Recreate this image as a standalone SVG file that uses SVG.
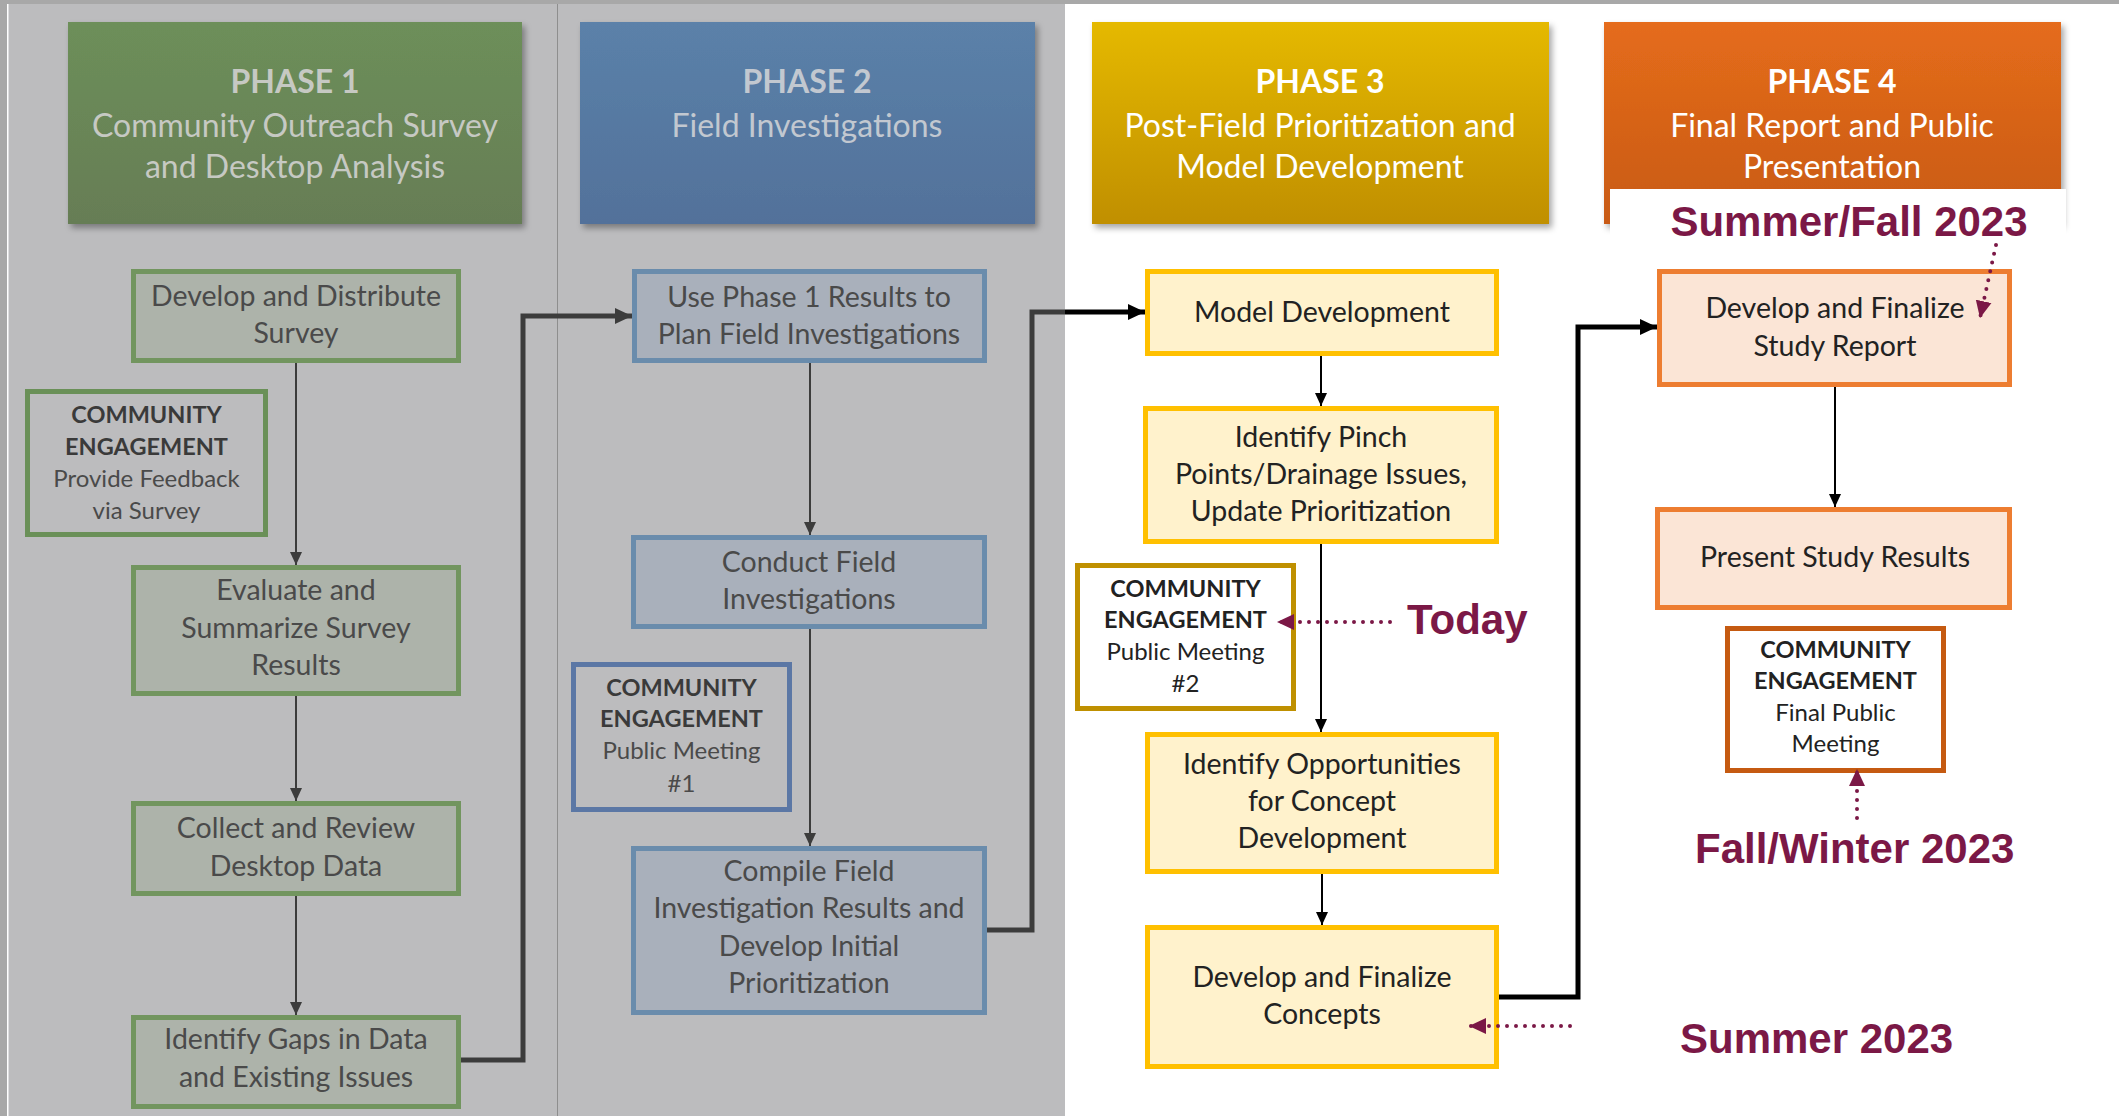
<svg xmlns="http://www.w3.org/2000/svg" width="2119" height="1116" viewBox="0 0 2119 1116">
<defs>
<style>
.t{font-family:Lato,"Liberation Sans",sans-serif;text-anchor:middle}
.n{font-size:28.5px}
.ce{font-size:24px}
.b{font-weight:bold;font-size:23.5px}
.hb{font-weight:bold}
.hd{font-size:32px}
.gt{fill:#4a4a4a}
.gtb{fill:#3a3a3a}
.wt{fill:#222}
.g1n{fill:#adb3aa;stroke:#72955f;stroke-width:5}
.g1c{fill:#bcbcbe;stroke:#6a9058;stroke-width:5}
.g2n{fill:#a9b0bb;stroke:#6a8cac;stroke-width:5}
.g2c{fill:#bcbcbe;stroke:#5b77a5;stroke-width:5}
.y3n{fill:#fff2cc;stroke:#ffc000;stroke-width:5}
.y3c{fill:#fff;stroke:#bf9000;stroke-width:5}
.o4n{fill:#fbe5d6;stroke:#ed7d31;stroke-width:5}
.o4c{fill:#fff;stroke:#c55a11;stroke-width:5}
.thin{fill:none;stroke-width:2}
.thick{fill:none;stroke-width:5}
.dot{fill:none;stroke:#7b1846;stroke-width:4;stroke-linecap:round;stroke-dasharray:0 9}
.date{font-family:"Liberation Sans",Arial,sans-serif;font-weight:bold;font-size:42px;fill:#7b1846}
</style>
<linearGradient id="gr1" x1="0" y1="0" x2="0" y2="1"><stop offset="0" stop-color="#6d8f5a"/><stop offset="1" stop-color="#667d55"/></linearGradient>
<linearGradient id="gr2" x1="0" y1="0" x2="0" y2="1"><stop offset="0" stop-color="#5b81a9"/><stop offset="1" stop-color="#52719a"/></linearGradient>
<linearGradient id="gr3" x1="0" y1="0" x2="0" y2="1"><stop offset="0" stop-color="#e5b900"/><stop offset="1" stop-color="#c08f00"/></linearGradient>
<linearGradient id="gr4" x1="0" y1="0" x2="0" y2="1"><stop offset="0" stop-color="#e56c1b"/><stop offset="1" stop-color="#c85a14"/></linearGradient>
<filter id="sh" x="-5%" y="-5%" width="115%" height="120%"><feDropShadow dx="3" dy="4" stdDeviation="3" flood-color="#000" flood-opacity="0.35"/></filter>
<marker id="ag" markerUnits="userSpaceOnUse" markerWidth="14" markerHeight="14" refX="13" refY="7" orient="auto"><path d="M0,1 L13,7 L0,13 z" fill="#3c3c3c"/></marker>
<marker id="ak" markerUnits="userSpaceOnUse" markerWidth="14" markerHeight="14" refX="13" refY="7" orient="auto"><path d="M0,1 L13,7 L0,13 z" fill="#000"/></marker>
<marker id="agT" markerUnits="userSpaceOnUse" markerWidth="18" markerHeight="18" refX="17" refY="9" orient="auto"><path d="M0,1 L17,9 L0,17 z" fill="#3c3c3c"/></marker>
<marker id="akT" markerUnits="userSpaceOnUse" markerWidth="18" markerHeight="18" refX="17" refY="9" orient="auto"><path d="M0,1 L17,9 L0,17 z" fill="#000"/></marker>
<marker id="am" markerUnits="userSpaceOnUse" markerWidth="18" markerHeight="18" refX="17" refY="9" orient="auto"><path d="M0,1 L17,9 L0,17 z" fill="#7b1846"/></marker>
</defs>

<!-- background -->
<rect x="0" y="0" width="2119" height="1116" fill="#fff"/>
<rect x="0" y="0" width="1065" height="1116" fill="#bcbcbe"/>
<rect x="0" y="0" width="2119" height="4" fill="#a8a8a8"/>
<rect x="0" y="0" width="7" height="1116" fill="#a8a8a8"/>
<rect x="7" y="4" width="1.5" height="1112" fill="#fff"/>
<line x1="557.5" y1="4" x2="557.5" y2="1116" stroke="#8e8e8e" stroke-width="1"/>

<!-- phase headers -->
<g id="phase1">
<rect x="68" y="22" width="454" height="202" fill="url(#gr1)" filter="url(#sh)"/>
<text class="t hd" fill="#c6c9c3"><tspan x="295" y="93" class="hb">PHASE 1</tspan><tspan x="295" y="137">Community Outreach Survey</tspan><tspan x="295" y="178">and Desktop Analysis</tspan></text>
</g>
<g id="phase2">
<rect x="580" y="22" width="455" height="202" fill="url(#gr2)" filter="url(#sh)"/>
<text class="t hd" fill="#c2c8d0"><tspan x="807" y="93" class="hb">PHASE 2</tspan><tspan x="807" y="137">Field Investigations</tspan></text>
</g>
<g id="phase3">
<rect x="1092" y="22" width="457" height="202" fill="url(#gr3)" filter="url(#sh)"/>
<text class="t hd" fill="#fff"><tspan x="1320" y="93" class="hb">PHASE 3</tspan><tspan x="1320" y="137">Post-Field Prioritization and</tspan><tspan x="1320" y="178">Model Development</tspan></text>
</g>
<g id="phase4">
<rect x="1604" y="22" width="457" height="202" fill="url(#gr4)" filter="url(#sh)"/>
<text class="t hd" fill="#fff"><tspan x="1832" y="93" class="hb">PHASE 4</tspan><tspan x="1832" y="137">Final Report and Public</tspan><tspan x="1832" y="178">Presentation</tspan></text>
</g>

<!-- phase 1 nodes -->
<g id="n1a"><rect class="g1n" x="133.5" y="271.5" width="325" height="89"/>
<text class="t n gt"><tspan x="296" y="306">Develop and Distribute</tspan><tspan x="296" y="343">Survey</tspan></text></g>
<g id="ce1"><rect class="g1c" x="27.5" y="391.5" width="238" height="143"/>
<text class="t ce"><tspan x="146.5" y="423" class="b gtb">COMMUNITY</tspan><tspan x="146.5" y="455" class="b gtb">ENGAGEMENT</tspan><tspan x="146.5" y="487" class="gt">Provide  Feedback</tspan><tspan x="146.5" y="519" class="gt">via Survey</tspan></text></g>
<g id="n1b"><rect class="g1n" x="133.5" y="567.5" width="325" height="126"/>
<text class="t n gt"><tspan x="296" y="600">Evaluate and</tspan><tspan x="296" y="638">Summarize Survey</tspan><tspan x="296" y="675">Results</tspan></text></g>
<g id="n1c"><rect class="g1n" x="133.5" y="803.5" width="325" height="90"/>
<text class="t n gt"><tspan x="296" y="838">Collect and Review</tspan><tspan x="296" y="876">Desktop Data</tspan></text></g>
<g id="n1d"><rect class="g1n" x="133.5" y="1017.5" width="325" height="89"/>
<text class="t n gt"><tspan x="296" y="1049">Identify Gaps in Data</tspan><tspan x="296" y="1087">and Existing Issues</tspan></text></g>

<!-- phase 2 nodes -->
<g id="n2a"><rect class="g2n" x="634.5" y="271.5" width="350" height="89"/>
<text class="t n gt"><tspan x="809" y="307">Use Phase 1 Results to</tspan><tspan x="809" y="344">Plan Field Investigations</tspan></text></g>
<g id="n2b"><rect class="g2n" x="633.5" y="537.5" width="351" height="89"/>
<text class="t n gt"><tspan x="809" y="572">Conduct Field</tspan><tspan x="809" y="609">Investigations</tspan></text></g>
<g id="ce2"><rect class="g2c" x="573.5" y="664.5" width="216" height="145"/>
<text class="t ce"><tspan x="681.5" y="696" class="b gtb">COMMUNITY</tspan><tspan x="681.5" y="727" class="b gtb">ENGAGEMENT</tspan><tspan x="681.5" y="759" class="gt">Public Meeting</tspan><tspan x="681.5" y="792" class="gt">#1</tspan></text></g>
<g id="n2c"><rect class="g2n" x="633.5" y="848.5" width="351" height="164"/>
<text class="t n gt"><tspan x="809" y="881">Compile Field</tspan><tspan x="809" y="918">Investigation Results and</tspan><tspan x="809" y="956">Develop Initial</tspan><tspan x="809" y="993">Prioritization</tspan></text></g>

<!-- phase 3 nodes -->
<g id="n3a"><rect class="y3n" x="1147.5" y="271.5" width="349" height="82"/>
<text class="t n wt"><tspan x="1322" y="322">Model Development</tspan></text></g>
<g id="n3b"><rect class="y3n" x="1145.5" y="408.5" width="351" height="133"/>
<text class="t n wt"><tspan x="1321" y="447">Identify Pinch</tspan><tspan x="1321" y="484">Points/Drainage Issues,</tspan><tspan x="1321" y="521">Update Prioritization</tspan></text></g>
<g id="ce3"><rect class="y3c" x="1077.5" y="565.5" width="216" height="143"/>
<text class="t ce"><tspan x="1185.5" y="597" class="b wt">COMMUNITY</tspan><tspan x="1185.5" y="628" class="b wt">ENGAGEMENT</tspan><tspan x="1185.5" y="660" class="wt">Public Meeting</tspan><tspan x="1185.5" y="692" class="wt">#2</tspan></text></g>
<g id="n3c"><rect class="y3n" x="1147.5" y="734.5" width="349" height="137"/>
<text class="t n wt"><tspan x="1322" y="774">Identify Opportunities</tspan><tspan x="1322" y="811">for Concept</tspan><tspan x="1322" y="848">Development</tspan></text></g>
<g id="n3d"><rect class="y3n" x="1147.5" y="927.5" width="349" height="139"/>
<text class="t n wt"><tspan x="1322" y="987">Develop and Finalize</tspan><tspan x="1322" y="1024">Concepts</tspan></text></g>

<!-- phase 4 nodes -->
<g id="n4a"><rect class="o4n" x="1659.5" y="271.5" width="350" height="113"/>
<text class="t n wt"><tspan x="1835" y="318">Develop and Finalize</tspan><tspan x="1835" y="356">Study Report</tspan></text></g>
<g id="n4b"><rect class="o4n" x="1657.5" y="509.5" width="352" height="98"/>
<text class="t n wt"><tspan x="1835" y="567">Present Study Results</tspan></text></g>
<g id="ce4"><rect class="o4c" x="1727.5" y="628.5" width="216" height="142"/>
<text class="t ce"><tspan x="1835.5" y="658" class="b wt">COMMUNITY</tspan><tspan x="1835.5" y="689" class="b wt">ENGAGEMENT</tspan><tspan x="1835.5" y="721" class="wt">Final Public</tspan><tspan x="1835.5" y="752" class="wt">Meeting</tspan></text></g>

<!-- date labels -->
<g id="labels">
<rect x="1610" y="189" width="456" height="62" fill="#fff"/>
<text class="date" x="1849" y="236" text-anchor="middle">Summer/Fall 2023</text>
<text class="date" x="1407" y="634">Today</text>
<text class="date" x="1695" y="863">Fall/Winter 2023</text>
<text class="date" x="1680" y="1053">Summer 2023</text>
</g>

<!-- connectors -->
<g id="connectors">
<line class="thin" x1="296" y1="363" x2="296" y2="565" stroke="#3c3c3c" marker-end="url(#ag)"/>
<line class="thin" x1="296" y1="696" x2="296" y2="801" stroke="#3c3c3c" marker-end="url(#ag)"/>
<line class="thin" x1="296" y1="896" x2="296" y2="1015" stroke="#3c3c3c" marker-end="url(#ag)"/>
<path class="thick" d="M461,1060 H523 V316 H632" stroke="#3c3c3c" marker-end="url(#agT)"/>
<line class="thin" x1="810" y1="363" x2="810" y2="535" stroke="#3c3c3c" marker-end="url(#ag)"/>
<line class="thin" x1="810" y1="629" x2="810" y2="846" stroke="#3c3c3c" marker-end="url(#ag)"/>
<path class="thick" d="M987,930 H1032 V312 H1065" stroke="#3c3c3c"/>
<path class="thick" d="M1065,312 H1145" stroke="#000" marker-end="url(#akT)"/>
<line class="thin" x1="1321" y1="356" x2="1321" y2="406" stroke="#000" marker-end="url(#ak)"/>
<line class="thin" x1="1321" y1="544" x2="1321" y2="732" stroke="#000" marker-end="url(#ak)"/>
<line class="thin" x1="1322" y1="874" x2="1322" y2="925" stroke="#000" marker-end="url(#ak)"/>
<path class="thick" d="M1499,997 H1578 V327 H1657" stroke="#000" marker-end="url(#akT)"/>
<line class="thin" x1="1835" y1="387" x2="1835" y2="507" stroke="#000" marker-end="url(#ak)"/>
<path class="dot" d="M1390,622 H1277" marker-end="url(#am)"/>
<path class="dot" d="M1570,1026 H1469" marker-end="url(#am)"/>
<path class="dot" d="M1857,818 V769" marker-end="url(#am)"/>
<path class="dot" d="M1996,245 L1980,318" marker-end="url(#am)"/>
</g>
</svg>
